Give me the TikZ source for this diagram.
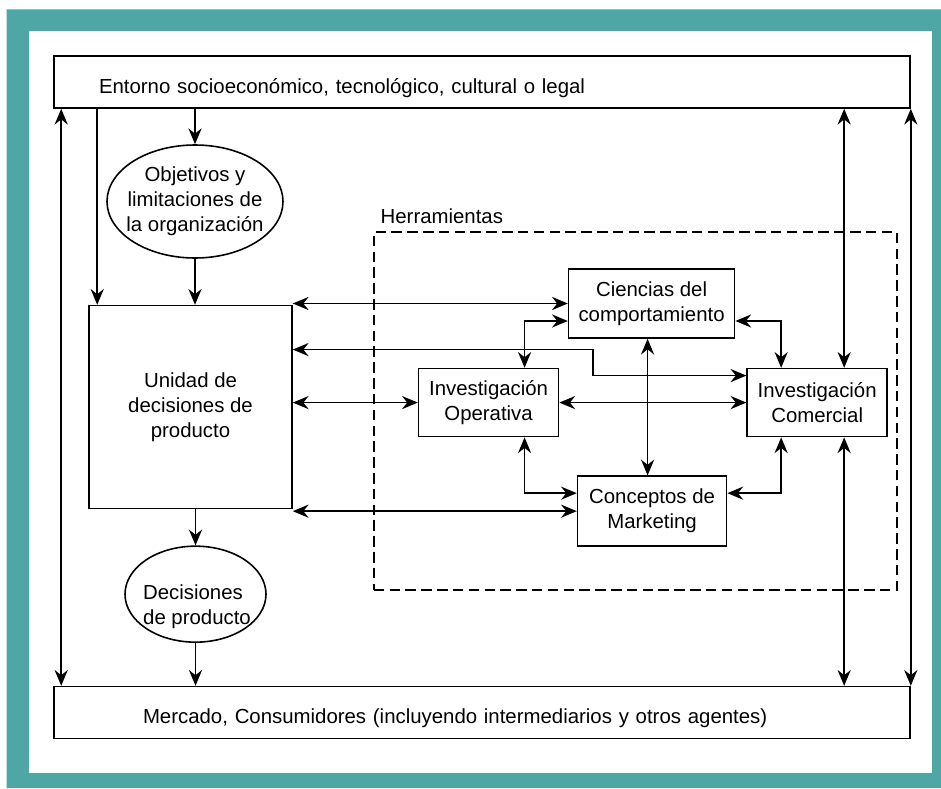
\documentclass[tikz,border=0pt]{standalone}
\usepackage{fontspec}
\setmainfont{Liberation Sans}
\usetikzlibrary{shapes.geometric, arrows.meta, positioning, fit}

\definecolor{frameteal}{RGB}{78,166,165}

\begin{document}
\begin{tikzpicture}[
    font=\fontsize{11.6pt}{14.2pt}\selectfont,
    >={Stealth[length=9pt, width=7.5pt, inset=3pt]},
    widebox/.style={rectangle, draw, line width=0.9pt, minimum width=17.12cm, minimum height=1.04cm, text height=0.44cm, text depth=0pt, align=left},
    unitbox/.style={rectangle, draw, line width=0.9pt, minimum width=4.06cm, minimum height=4.06cm, align=center},
    toolbox/.style={rectangle, draw, line width=0.9pt, minimum width=2.8cm, minimum height=1.36cm, align=center},
    oval/.style={ellipse, draw, line width=0.9pt, inner sep=0pt},
    outerbox/.style={rectangle, draw, line width=1.1pt, dash pattern=on 6pt off 3pt, inner sep=0pt},
    arrow/.style={->, line width=0.85pt},
    twoway/.style={<->, line width=0.85pt}
]
\useasboundingbox (0,0) rectangle (18.82,-15.76);

% Frame
\fill[frameteal, even odd rule] (0.134,-0.186) rectangle (18.82,-15.76) (0.58,-0.62) rectangle (18.64,-15.46);

% Environment and market
\node[widebox, text width=15.32cm, inner xsep=0.9cm] (entorno) at (9.64,-1.64) {Entorno socioeconómico, tecnológico, cultural o legal};
\node[widebox, text width=13.56cm, inner xsep=1.78cm, below=11.54cm of entorno] (mercado) {Mercado, Consumidores (incluyendo intermediarios y otros agentes)};

% Decision unit
\node[unitbox, below=3.92cm of entorno.south west, anchor=north west, xshift=0.7cm] (unidad) {Unidad de\\decisiones de\\producto};
\node[oval, minimum width=3.52cm, minimum height=2.26cm, above=0.92cm of unidad, xshift=0.09cm] (objetivos) {};
\node[align=center] (objetivostext) at (objetivos) {Objetivos y\\limitaciones de\\la organización};
\node[oval, minimum width=2.82cm, minimum height=1.92cm, below=0.72cm of unidad, xshift=0.1cm] (decisiones) {};
\node[align=left, yshift=-0.26cm, xshift=0.03cm] (decisionestext) at (decisiones) {Decisiones\\de producto};

% Tools
\node[toolbox, right=2.5cm of unidad, yshift=0.09cm] (io) {Investigación\\Operativa};
\node[toolbox, right=3.74cm of io] (ic) {Investigación\\Comercial};
\node[toolbox, minimum width=3.32cm, minimum height=1.38cm, above=0.58cm of io, xshift=3.26cm] (ciencias) {Ciencias del\\comportamiento};
\node[toolbox, minimum width=2.98cm, minimum height=1.4cm, below=0.76cm of io, xshift=3.27cm] (marketing) {Conceptos de\\Marketing};

\coordinate (toolsnw) at ([shift={(-0.88cm,0.72cm)}]io.west |- ciencias.north);
\coordinate (toolsse) at ([shift={(0.18cm,-0.86cm)}]ic.east |- marketing.south);
\node[outerbox, fit=(toolsnw) (toolsse), label={[anchor=south west, inner sep=0.15cm]north west:Herramientas}] (tools) {};

% Left column
\draw[twoway] ([xshift=0.16cm]entorno.south west) -- ([xshift=0.16cm]mercado.north west);
\draw[arrow] ([xshift=0.88cm]entorno.south west) -- ([xshift=0.88cm]entorno.south west |- unidad.north);
\draw[arrow] (objetivos.north |- entorno.south) -- (objetivos.north);
\draw[arrow] (objetivos.south) -- (objetivos.south |- unidad.north);
\draw[arrow] (decisiones.north |- unidad.south) -- (decisiones.north);
\draw[arrow] (decisiones.south) -- (decisiones.south |- mercado.north);

% Unit to tools
\draw[twoway] (ciencias.west -| unidad.east) -- (ciencias.west);
\draw[twoway] ([yshift=1.15cm]unidad.east) -| ([shift={(0.5cm,0.54cm)}]ciencias.west |- ic.west) -- ([yshift=0.54cm]ic.west);
\draw[twoway] (io.west -| unidad.east) -- (io.west);
\draw[twoway] (marketing.west -| unidad.east) -- (marketing.west);

% Between tools
\draw[twoway] ([xshift=0.72cm]io.north) |- ([yshift=-0.35cm]ciencias.west);
\draw[twoway] (io.east) -- (ic.west);
\draw[twoway] ([xshift=-0.08cm]ciencias.south) -- ([xshift=-0.08cm]ciencias.south |- marketing.north);
\draw[twoway] ([yshift=-0.35cm]ciencias.east) -| ([xshift=-0.72cm]ic.north);
\draw[twoway] ([xshift=0.72cm]io.south) |- ([yshift=0.36cm]marketing.west);
\draw[twoway] ([yshift=0.36cm]marketing.east) -| ([xshift=-0.72cm]ic.south);

% Right column
\draw[twoway] ([xshift=0.54cm]ic.north) -- ([xshift=0.54cm]ic.north |- entorno.south);
\draw[twoway] ([xshift=0.54cm]ic.south) -- ([xshift=0.54cm]ic.south |- mercado.north);
\draw[twoway] (entorno.south east) -- (mercado.north east);

\end{tikzpicture}
\end{document}
